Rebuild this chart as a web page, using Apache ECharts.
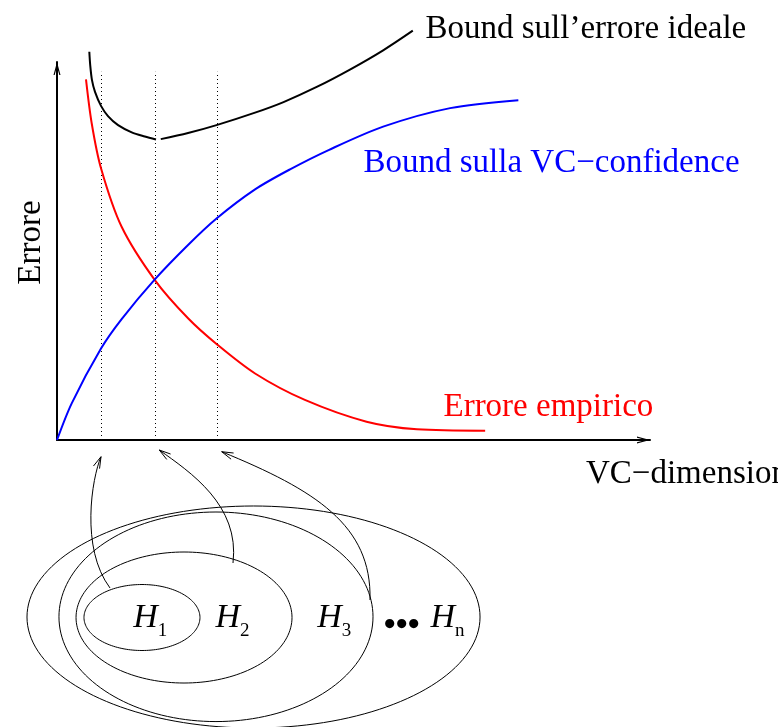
<!DOCTYPE html>
<html><head><meta charset="utf-8">
<script src="https://cdn.jsdelivr.net/npm/echarts@6/dist/echarts.min.js"></script>
<style>html,body{margin:0;padding:0;background:#fff}#c{width:778px;height:727px}</style>
</head><body><div id="c"></div>
<script>
// Units: x = VC-dimension (0..100 along the drawn axis), y = Errore (0..100 along the drawn axis)
const empiricalError = [[4.89,95.4],[5.85,83.8],[7.42,71.9],[10.9,56.4],[16.5,42.3],[22.1,32.2],[26.9,25.4],[33.4,17.6],[41.8,10.6],[52.2,4.84],[60.7,2.83],[72.2,2.46]];
const vcConfidence = [[0,0],[2.48,9.7],[7.42,24.2],[10.9,32.0],[16.5,42.5],[22.1,51.6],[26.9,58.6],[33.4,66.3],[39.3,71.6],[45.8,76.7],[55.0,82.9],[66.3,87.8],[77.8,89.9]];
const idealBoundLeft = [[5.45,102.7],[5.60,99.2],[5.90,95.2],[6.41,92.1],[7.42,88.4],[8.60,85.7],[10.3,83.3],[12.6,81.4],[14.8,80.3],[16.7,79.5]];
const idealBoundRight = [[17.5,79.6],[22.1,81.2],[26.9,83.3],[33.4,86.6],[38.2,89.4],[43.8,93.4],[49.4,98.0],[55.0,103.1],[60.0,108.3]];
const dottedMarks = [[7.42,97.4],[16.6,97.4],[26.9,97.4]];
// nested hypothesis sets: [cx, cy, rx, ry]
const hypothesisSets = [[14.33,-46.96,9.78,8.73],[21.42,-46.96,18.21,17.33],[26.81,-46.77,26.48,27.72],[33.14,-46.83,38.20,29.37]];
// curved arrows: cubic bezier [x0,y0, c1x,c1y, c2x,c2y, x1,y1]
const arrows = [
  [8.94,-39.15, 3.88,-28.57, 5.90,-10.05, 7.42,-4.42],
  [29.68,-32.54, 30.86,-17.20, 22.43,-8.47, 17.25,-2.65],
  [52.78,-42.33, 53.12,-22.49, 43.51,-13.23, 27.77,-3.10]
];
const curveLabels = ['Bound sull\u2019errore ideale', 'Bound sulla VC\u2212confidence', 'Errore empirico'];
const curveLabelAnchors = [[62.06,108.6],[51.6,73.15],[65.09,8.6]];
const setSubscripts = ['1','2','3','n'];
const setLabelAnchors = [[12.77,-47.9],[26.64,-47.9],[43.79,-47.9],[62.9,-47.9]];
const ellipsisAnchor = [[55.03,-49.3]];
const xAxisName = 'VC\u2212dimension';
const yAxisName = 'Errore';

const FONT = 'Liberation Serif';
const curveLabelColors = ['#000000', '#0000ff', '#ff0000'];
const arrowSym = 'path://M35,0 L70,130 L58,130 L35,44.6 L12,130 L0,130 Z';

const chart = echarts.init(document.getElementById('c'), null, {renderer:'canvas'});

function axisCommon(){
  return {
    type:'value', min:0, max:100,
    axisLine:{show:true, onZero:false, symbol:['none', arrowSym], symbolSize:[7,13], symbolOffset:[0,-6.5], lineStyle:{color:'#000', width:2}},
    axisTick:{show:false}, axisLabel:{show:false}, splitLine:{show:false},
    nameMoveOverlap:false
  };
}
const hiddenItem = {color:'rgba(0,0,0,0)', opacity:1};
function curve(name, data, color){
  return {type:'line', name:name, data:data, smooth:0.3, showSymbol:false, symbol:'none', clip:false, silent:true,
    lineStyle:{color:color, width:2}, z:3};
}

const option = {
  animation:false,
  backgroundColor:'#ffffff',
  textStyle:{fontFamily:FONT},
  grid:{left:57, top:62, width:593, height:378, containLabel:false, outerBoundsMode:'none'},
  xAxis:Object.assign(axisCommon(), {
    name:xAxisName, nameLocation:'end', nameGap:-64,
    nameTextStyle:{fontFamily:FONT, fontSize:33, color:'#000', align:'left', verticalAlign:'top', padding:[18,0,0,0]}
  }),
  yAxis:Object.assign(axisCommon(), {
    name:yAxisName, nameLocation:'middle', nameRotate:90, nameGap:9,
    nameTextStyle:{fontFamily:FONT, fontSize:33, color:'#000', padding:[0,0,0,17]}
  }),
  series:[
    {type:'custom', name:'dotted', silent:true, clip:false, data:dottedMarks,
      renderItem:function(params, api){
        const a = api.coord([api.value(0), 0]);
        const b = api.coord([api.value(0), api.value(1)]);
        return {type:'line', shape:{x1:Math.round(a[0])+0.5, y1:a[1], x2:Math.round(b[0])+0.5, y2:b[1]},
          style:{stroke:'#000', lineWidth:1, lineDash:[1,3]}};
      }},
    curve('Errore empirico', empiricalError, '#ff0000'),
    curve('Bound sulla VC-confidence', vcConfidence, '#0000ff'),
    curve('Bound ideale A', idealBoundLeft, '#000000'),
    curve('Bound ideale B', idealBoundRight, '#000000'),
    {type:'custom', name:'sets', silent:true, clip:false, data:hypothesisSets,
      renderItem:function(params, api){
        const c = api.coord([api.value(0), api.value(1)]);
        const s = api.size([api.value(2), api.value(3)]);
        const pts = [];
        const N = 160;
        for (let i=0;i<N;i++){ const t = i/N*Math.PI*2; pts.push([c[0]+s[0]*Math.cos(t), c[1]+s[1]*Math.sin(t)]); }
        return {type:'polygon', shape:{points:pts}, style:{stroke:'#000', fill:'none', lineWidth:1}};
      }},
    {type:'custom', name:'arrows', silent:true, clip:false, data:arrows,
      renderItem:function(params, api){
        const p = [];
        for (let i=0;i<4;i++) p.push(api.coord([api.value(2*i), api.value(2*i+1)]));
        const dx = p[3][0]-p[2][0], dy = p[3][1]-p[2][1];
        const len = Math.hypot(dx,dy), ux = dx/len, uy = dy/len;
        const L = 12, a = 0.28, ca = Math.cos(a), sa = Math.sin(a);
        const w1 = [p[3][0] - L*(ux*ca - uy*sa), p[3][1] - L*(uy*ca + ux*sa)];
        const w2 = [p[3][0] - L*(ux*ca + uy*sa), p[3][1] - L*(uy*ca - ux*sa)];
        return {type:'group', children:[
          {type:'bezierCurve', shape:{x1:p[0][0], y1:p[0][1], cpx1:p[1][0], cpy1:p[1][1], cpx2:p[2][0], cpy2:p[2][1], x2:p[3][0], y2:p[3][1]},
            style:{stroke:'#000', fill:'none', lineWidth:1}},
          {type:'polyline', shape:{points:[w1, p[3], w2]}, style:{stroke:'#000', fill:'none', lineWidth:1}}
        ]};
      }},
    {type:'scatter', name:'curveLabels', silent:true, clip:false, symbolSize:1, itemStyle:hiddenItem,
      data:curveLabels.map(function(t,i){ return {value:curveLabelAnchors[i], label:{formatter:t, color:curveLabelColors[i]}}; }),
      label:{show:true, opacity:1, position:'right', distance:0, fontFamily:FONT, fontSize:33}},
    {type:'scatter', name:'setLabels', silent:true, clip:false, symbolSize:1, itemStyle:hiddenItem,
      data:setSubscripts.map(function(t,i){ return {value:setLabelAnchors[i], label:{formatter:'{h|H}{s|'+t+'}'}}; }),
      label:{show:true, opacity:1, position:'right', distance:0,
        rich:{
          h:{fontFamily:FONT, fontStyle:'italic', fontSize:34, color:'#000', verticalAlign:'bottom', padding:[0,0,5,0]},
          s:{fontFamily:FONT, fontSize:19, color:'#000', verticalAlign:'bottom', padding:[0,0,0,0]}
        }}},
    {type:'scatter', name:'ellipsis', silent:true, clip:false, symbolSize:1, itemStyle:hiddenItem,
      data:ellipsisAnchor,
      label:{show:true, opacity:1, position:'right', distance:0, formatter:'\u2022\u2022\u2022', fontFamily:FONT, fontWeight:'bold', fontSize:34, color:'#000'}}
  ]
};
chart.setOption(option);
</script></body></html>
